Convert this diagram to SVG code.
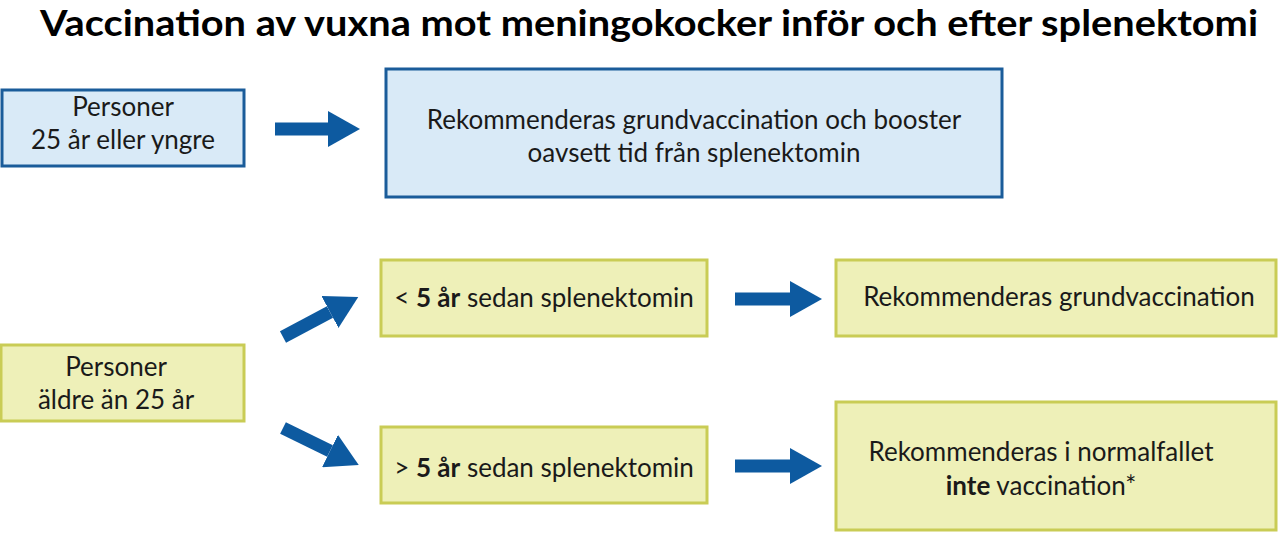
<svg xmlns="http://www.w3.org/2000/svg" width="1280" height="533" viewBox="0 0 1280 533">
<style>
.b{fill:#d9eaf7;stroke:#1a5c9a;stroke-width:3}
.y{fill:#eef0b8;stroke:#c9cc55;stroke-width:3}
text{font-family:Lato,"Open Sans",sans-serif;font-size:26px;fill:#1a1a1a;text-anchor:middle}
.c line{stroke:#0d5aa0;stroke-width:13;marker-end:url(#ah)}
</style>
<defs><marker id="ah" markerUnits="userSpaceOnUse" markerWidth="32" markerHeight="36" refX="0" refY="18" orient="auto"><path d="M0,0L32,18L0,36Z" fill="#0d5aa0"/></marker></defs>
<rect width="1280" height="533" fill="#fff"/>
<text x="649" y="36" textLength="1218" lengthAdjust="spacingAndGlyphs" style="font-size:37px;font-weight:bold;fill:#000">Vaccination av vuxna mot meningokocker inför och efter splenektomi</text>
<g id="n1"><rect class="b" x="2" y="90" width="242" height="76"/><text x="123" y="116">Personer</text><text x="123" y="149">25 år eller yngre</text></g>
<g id="n2"><rect class="b" x="386" y="69" width="616" height="128"/><text x="694" y="129">Rekommenderas grundvaccination och booster</text><text x="694" y="162">oavsett tid från splenektomin</text></g>
<g id="n3"><rect class="y" x="1" y="345" width="243" height="76"/><text x="116" y="376">Personer</text><text x="116" y="409">äldre än 25 år</text></g>
<g id="n4"><rect class="y" x="381" y="260" width="326" height="76"/><text x="544" y="307">&lt; <tspan font-weight="bold">5 år</tspan> sedan splenektomin</text></g>
<g id="n5"><rect class="y" x="836" y="260" width="440" height="76"/><text x="1059" y="306">Rekommenderas grundvaccination</text></g>
<g id="n6"><rect class="y" x="381" y="427" width="326" height="76"/><text x="544" y="477">&gt; <tspan font-weight="bold">5 år</tspan> sedan splenektomin</text></g>
<g id="n7"><rect class="y" x="836" y="402" width="440" height="128"/><text x="1041" y="461">Rekommenderas i normalfallet</text><text x="1041" y="495"><tspan font-weight="bold">inte</tspan> vaccination*</text></g>
<g id="connectors" class="c">
<line x1="275" y1="129" x2="328" y2="129"/>
<line x1="735" y1="299" x2="790" y2="299"/>
<line x1="735" y1="466" x2="790" y2="466"/>
<line x1="283" y1="337" x2="330" y2="312"/>
<line x1="283" y1="428" x2="330" y2="451"/>
</g>
</svg>
